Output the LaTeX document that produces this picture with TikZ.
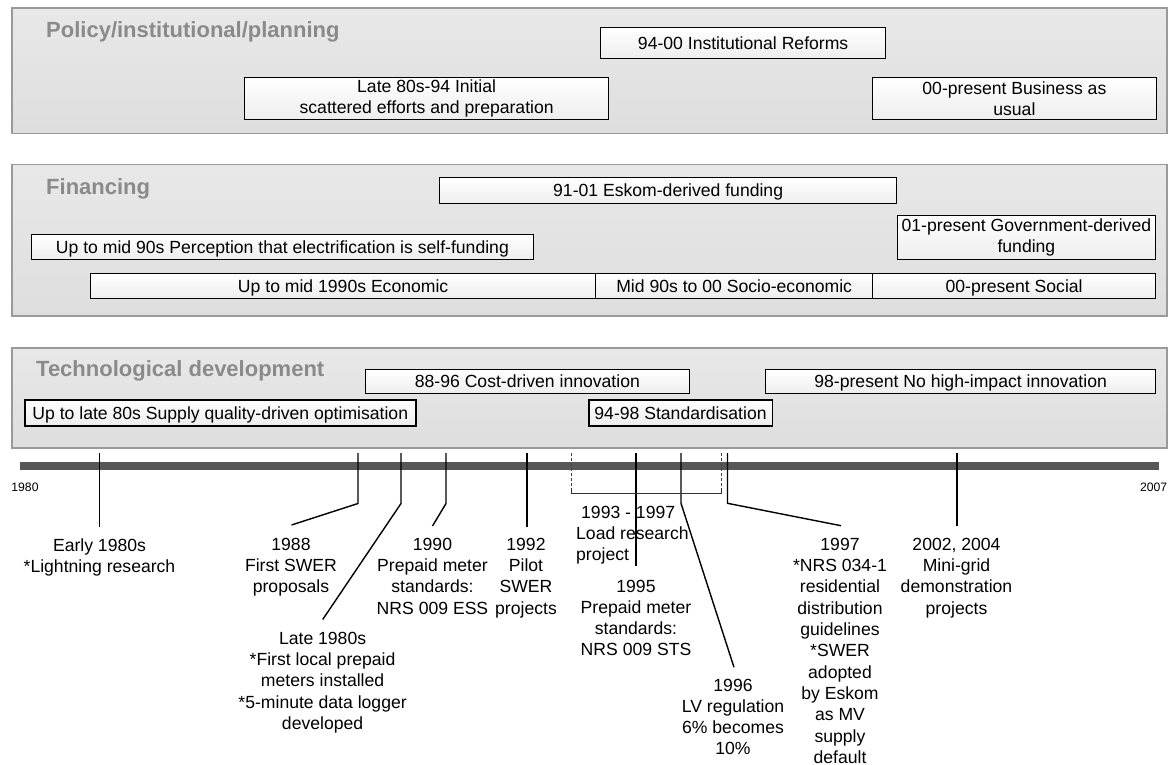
\documentclass[tikz,border=0pt]{standalone}
\usepackage{fontspec}
\setmainfont{Liberation Sans}
\definecolor{paneledge}{HTML}{9A9A9A}
\definecolor{titlegray}{HTML}{8A8A8A}
\definecolor{barcol}{HTML}{575757}
\newcommand\fs{\fontsize{17.6}{21.3}\selectfont}
\newcommand\fssmall{\fontsize{12.2}{14}\selectfont}
\newcommand\fstitle{\fontsize{22}{26}\selectfont\bfseries}
\begin{document}
\begin{tikzpicture}[x=1pt,y=-1pt,
  panel/.style={draw=paneledge, line width=1.5pt, top color=black!9, bottom color=black!13, anchor=north west, inner sep=0pt},
  ptitle/.style={anchor=base west, inner sep=0pt, font=\fstitle, text=titlegray},
  box/.style={draw=black, line width=1.3pt, top color=white, bottom color=black!7, anchor=north west, inner sep=0pt, font=\fs, align=center},
  one/.style={text height=12.6pt, text depth=0pt},
  lab/.style={anchor=north, inner sep=0pt, font=\fs, align=center},
  tickline/.style={line width=1.4pt, black},
  yearlab/.style={inner sep=0pt, font=\fssmall},
]
\useasboundingbox (0,0) rectangle (1171,765);

% ---------------- panels ----------------
\node[panel, minimum width=1155pt, minimum height=125.5pt] (p1) at (11,7.5) {};
\node[panel, minimum width=1155pt, minimum height=151pt] (p2) at (11,164) {};
\node[panel, minimum width=1155pt, minimum height=100pt] (p3) at (11,347) {};

\node[ptitle] (p1t) at (46,37.5) {Policy/institutional/planning};
\node[ptitle] (p2t) at (46,194.5) {Financing};
\node[ptitle] (p3t) at (36,376.5) {Technological development};

% ---------------- policy boxes ----------------
\node[box, one, minimum width=285pt, minimum height=31pt] (b1) at (600,27) {94-00 Institutional Reforms};
\node[box, minimum width=364pt, minimum height=42pt] (b2) at (244,77) {Late 80s-94 Initial\\scattered efforts and preparation};
\node[box, minimum width=283.5pt, minimum height=42pt] (b3) at (872,77) {00-present Business as\\usual};

% ---------------- financing boxes ----------------
\node[box, one, minimum width=457pt, minimum height=26pt] (f1) at (439,177) {91-01 Eskom-derived funding};
\node[box, one, minimum width=502.5pt, minimum height=25pt] (f2) at (30.5,234) {Up to mid 90s Perception that electrification is self-funding};
\node[box, minimum width=258.5pt, minimum height=44pt] (f3) at (896.5,215) {01-present Government-derived\\funding};
\node[box, one, minimum width=505pt, minimum height=25pt] (f4) at (90,273) {Up to mid 1990s Economic};
\node[box, one, minimum width=277pt, minimum height=25pt] (f5) at (595,273) {Mid 90s to 00 Socio-economic};
\node[box, one, minimum width=283pt, minimum height=25pt] (f6) at (872,273) {00-present Social};

% ---------------- technology boxes ----------------
\node[box, one, minimum width=323.5pt, minimum height=24pt] (t1) at (365,369) {88-96 Cost-driven innovation};
\node[box, one, minimum width=390pt, minimum height=24pt] (t2) at (765,369) {98-present No high-impact innovation};
\node[box, one, line width=1.6pt, minimum width=391pt, minimum height=26pt] (t3) at (24,399) {Up to late 80s Supply quality-driven optimisation};
\node[box, one, line width=1.6pt, minimum width=183.5pt, minimum height=26pt] (t4) at (588,399) {94-98 Standardisation};

% ---------------- timeline bar ----------------
\fill[barcol] (20,462) rectangle (1158.5,470);
\node[yearlab] (y1980) at (25,487) {1980};
\node[yearlab] (y2007) at (1153.7,487) {2007};

% ---------------- labels ----------------
\node[lab] (l1) at (99.5,538.2) {Early 1980s\\*Lightning research};
\node[lab] (l2) at (291,537.9) {1988\\First SWER\\proposals};
\node[lab] (l3) at (322.6,631.9) {Late 1980s\\*First local prepaid\\meters installed\\*5-minute data logger\\developed};
\node[lab] (l4) at (432.5,537.9) {1990\\Prepaid meter\\standards:\\NRS 009 ESS};
\node[lab] (l5) at (526,537.9) {1992\\Pilot\\SWER\\projects};
\node[lab, anchor=north west, align=left] (l6) at (576,505.9) {\hspace*{5pt}1993 - 1997\\Load research\\project};
\node[lab] (l7) at (636,579.6) {1995\\Prepaid meter\\standards:\\NRS 009 STS};
\node[lab] (l8) at (733,678.6) {1996\\LV regulation\\6\% becomes\\10\%};
\node[lab] (l9) at (840,537.9) {1997\\*NRS 034-1\\residential\\distribution\\guidelines\\*SWER\\adopted\\by Eskom\\as MV\\supply\\default};
\node[lab] (l10) at (956.5,537.9) {2002, 2004\\Mini-grid\\demonstration\\projects};

% ---------------- tick coordinates ----------------
\coordinate (a1) at (99.5,453);  \coordinate (e1) at (99.5,527);
\coordinate (a2) at (358,453);   \coordinate (k2) at (358,503.5); \coordinate (e2) at (291.5,525);
\coordinate (a3) at (401,453);   \coordinate (k3) at (401,503.5); \coordinate (e3) at (322.7,619.5);
\coordinate (a4) at (446,453);   \coordinate (k4) at (446,503.5); \coordinate (e4) at (432.5,526);
\coordinate (a5) at (527,453);   \coordinate (e5) at (527,527);
\coordinate (a7) at (636,453);   \coordinate (e7) at (636,566);
\coordinate (a8) at (681,453);   \coordinate (k8) at (681,503.3); \coordinate (e8) at (734,667.3);
\coordinate (a9) at (727.5,453); \coordinate (k9) at (727.5,503.3); \coordinate (e9) at (841,525.7);
\coordinate (a10) at (957,453);  \coordinate (e10) at (957,526);
\coordinate (bla) at (571,453);  \coordinate (blk) at (571,488); \coordinate (blb) at (571,493.3);
\coordinate (bra) at (721,453);  \coordinate (brk) at (721,488); \coordinate (brb) at (721,493.3);

% ---------------- ticks ----------------
\draw[tickline] (a1) -- (e1);
\draw[tickline] (a2) -- (k2) -- (e2);
\draw[tickline] (a3) -- (k3) -- (e3);
\draw[tickline] (a4) -- (k4) -- (e4);
\draw[tickline] (a5) -- (e5);
\draw[tickline] (a7) -- (e7);
\draw[tickline] (a8) -- (k8) -- (e8);
\draw[tickline] (a9) -- (k9) -- (e9);
\draw[tickline] (a10) -- (e10);

% bracket for load research
\draw[black!75, line width=0.8pt, dash pattern=on 3pt off 2pt] (bla) -- (blk);
\draw[black!75, line width=0.8pt, dash pattern=on 3pt off 2pt] (bra) -- (brk);
\draw[black!80, line width=0.9pt] (blk) -- (blb) -- (brb) -- (brk);
\end{tikzpicture}
\end{document}
